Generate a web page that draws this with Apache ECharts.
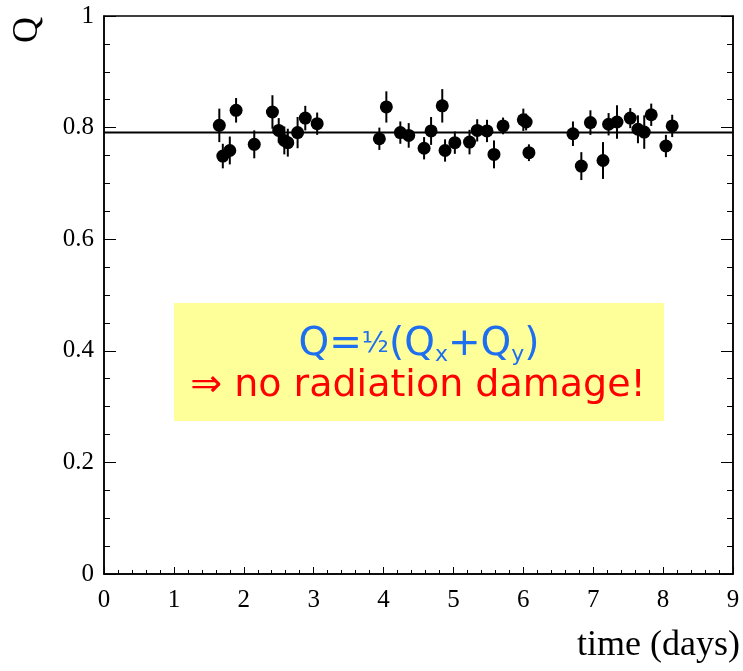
<!DOCTYPE html>
<html><head><meta charset="utf-8">
<script src="https://cdn.jsdelivr.net/npm/echarts@6/dist/echarts.min.js"></script>
<style>html,body{margin:0;padding:0;background:#fff}#c{width:743px;height:671px}</style>
</head><body><div id="c"></div>
<script>
const times = [1.65,1.70,1.80,1.89,2.15,2.41,2.50,2.58,2.63,2.77,2.88,3.05,3.94,4.04,4.24,4.36,4.58,4.68,4.84,4.88,5.02,5.23,5.34,5.48,5.58,5.71,6.00,6.04,6.08,6.71,6.83,6.96,7.14,7.22,7.34,7.53,7.64,7.73,7.83,8.04,8.13];
const qValues = [0.804,0.749,0.759,0.831,0.770,0.828,0.795,0.777,0.773,0.791,0.817,0.807,0.780,0.837,0.791,0.786,0.763,0.794,0.839,0.759,0.773,0.774,0.795,0.794,0.752,0.803,0.814,0.810,0.755,0.789,0.731,0.809,0.741,0.806,0.810,0.817,0.797,0.792,0.823,0.767,0.803];
const qErrors = [0.030,0.022,0.025,0.022,0.025,0.030,0.022,0.025,0.025,0.028,0.022,0.020,0.020,0.028,0.020,0.022,0.020,0.025,0.030,0.020,0.020,0.022,0.020,0.020,0.025,0.015,0.020,0.015,0.015,0.022,0.025,0.022,0.033,0.020,0.030,0.018,0.025,0.030,0.020,0.020,0.020];
const fitLevel = 0.791;
const xTicks = [0,1,2,3,4,5,6,7,8,9];
const yTicks = [0,0.2,0.4,0.6,0.8,1];

const points = times.map((t,i)=>[t,qValues[i]]);
const errs = times.map((t,i)=>[t,qValues[i]-qErrors[i],qValues[i]+qErrors[i]]);
const serif = 'Liberation Serif';
const chart = echarts.init(document.getElementById('c'));
chart.setOption({
  animation:false,
  grid:{left:104,right:10,top:16,bottom:97,show:true,borderColor:'#000',borderWidth:1.5,backgroundColor:'transparent'},
  xAxis:[{type:'value',min:0,max:9,interval:1,
    axisLine:{show:true,onZero:false,lineStyle:{color:'#000',width:1.5}},
    axisTick:{show:true,inside:true,length:7,lineStyle:{color:'#000'}},
    minorTick:{show:true,splitNumber:5,length:4,lineStyle:{color:'#000'}},
    splitLine:{show:false},
    axisLabel:{color:'#000',fontFamily:serif,fontSize:25,margin:14,formatter:v=>xTicks.includes(v)?String(v):''}
  }],
  yAxis:[{type:'value',min:0,max:1,interval:0.2,
    axisLine:{show:true,onZero:false,lineStyle:{color:'#000',width:1.5}},
    axisTick:{show:true,inside:true,length:12,lineStyle:{color:'#000'}},
    minorTick:{show:true,splitNumber:4,length:6,lineStyle:{color:'#000'}},
    splitLine:{show:false},
    axisLabel:{color:'#000',fontFamily:serif,fontSize:25,margin:10,formatter:v=>{const r=Math.round(v*10)/10;return yTicks.includes(r)?(r===0||r===1?String(r):r.toFixed(1)):''}}
  },{type:'value',show:true,position:'right',min:0,max:1,interval:0.2,
    axisLine:{show:true,onZero:false,lineStyle:{color:'#000',width:1.5}},
    axisTick:{show:true,inside:true,length:12,lineStyle:{color:'#000'}},
    minorTick:{show:true,splitNumber:4,length:6,lineStyle:{color:'#000'}},
    axisLabel:{show:false},splitLine:{show:false}}],
  graphic:[
    {type:'text',x:28,y:30,rotation:Math.PI/2,style:{text:'Q',font:'36px "Liberation Serif"',fill:'#000',align:'center',verticalAlign:'middle'}},
    {type:'text',x:740,y:628,style:{text:'time (days)',font:'36px "Liberation Serif"',fill:'#000',align:'right',verticalAlign:'top'}},
    {type:'rect',shape:{x:174,y:303,width:490,height:118},style:{fill:'#ffff99'},z:50},
    {type:'text',x:419,y:345,z:51,style:{
      rich:{a:{fontSize:39,fontFamily:'DejaVu Sans',fill:'#1e6ef0'},
            f:{fontSize:28,fontFamily:'DejaVu Sans',fill:'#1e6ef0'},
            s:{fontSize:22,fontFamily:'DejaVu Sans',fill:'#1e6ef0',padding:[20,0,0,0]}},
      text:'{a|Q=}{f|½}{a|(Q}{s|x}{a|+Q}{s|y}{a|)}',align:'center',verticalAlign:'middle'}},
    {type:'text',x:418,y:386,z:51,style:{text:'⇒ no radiation damage!',font:'38px "DejaVu Sans"',fill:'#ff0000',align:'center',verticalAlign:'middle'}}
  ],
  series:[
    {type:'line',data:[[0,fitLevel],[9,fitLevel]],symbol:'none',lineStyle:{color:'#000',width:2},z:2},
    {type:'custom',data:errs,z:3,renderItem:(params,api)=>{
      const p1=api.coord([api.value(0),api.value(1)]);const p2=api.coord([api.value(0),api.value(2)]);
      return {type:'line',shape:{x1:p1[0],y1:p1[1],x2:p2[0],y2:p2[1]},style:{stroke:'#000',lineWidth:2}};
    }},
    {type:'scatter',data:points,symbol:'circle',symbolSize:13,itemStyle:{color:'#000',opacity:1},z:4},
    {type:'scatter',yAxisIndex:1,data:[[0,0.5]],symbolSize:0,silent:true}
  ]
});
</script></body></html>
